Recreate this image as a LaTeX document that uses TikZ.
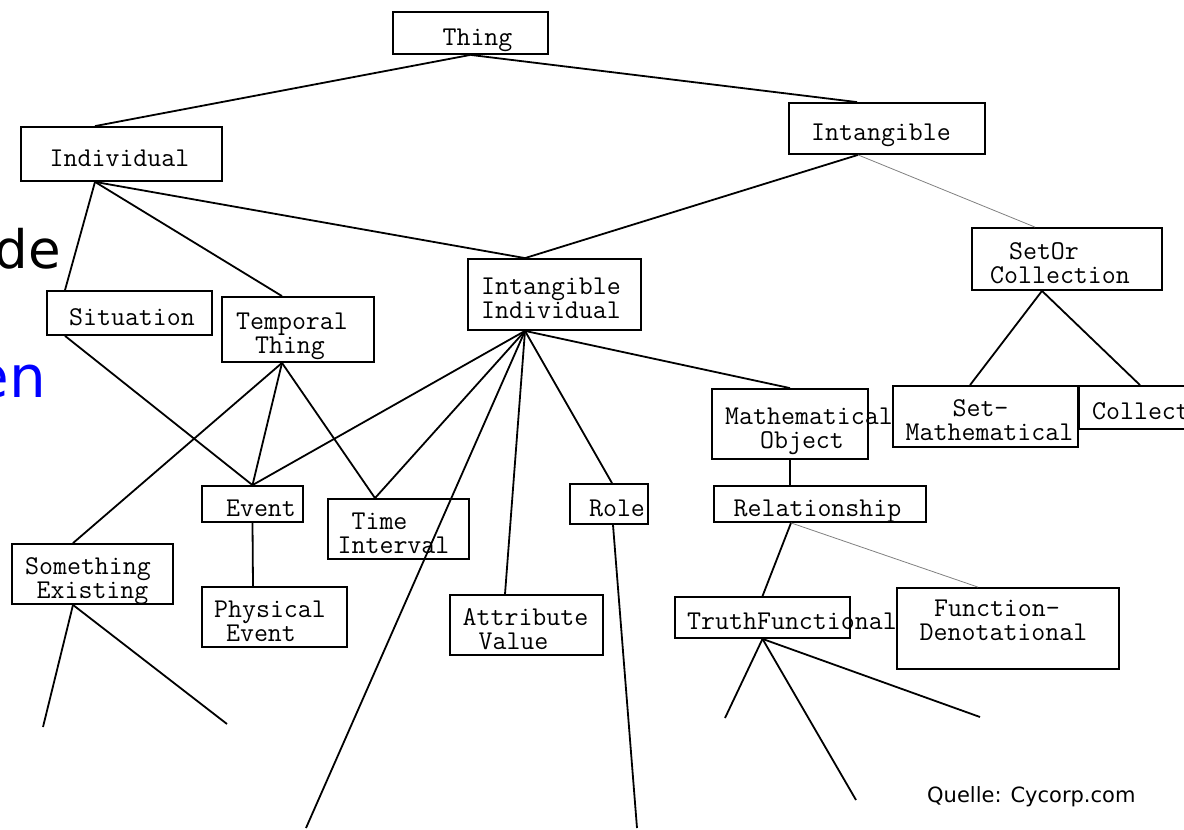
\documentclass[tikz,border=0pt]{standalone}
\usepackage{fontspec}
\newfontfamily\slidefont{DejaVu Sans}
% one line of a class box: shifted by #1/2, fixed line height
\newcommand\ctext[2]{\makebox[0pt]{\hspace*{#1pt}\rule{0pt}{24pt}\smash{#2}}}
\tikzset{
  cls/.style={draw, line width=1.8pt, inner sep=0pt, align=center,
    font=\ttfamily\fontsize{27.14}{24}\selectfont},
  link/.style={line width=1.8pt},
  weak/.style={line width=0.8pt, gray},
}
\begin{document}
\begin{tikzpicture}[x=1pt,y=-1pt]
  \useasboundingbox (0,0) rectangle (1184,830);
  \clip (0,0) rectangle (1184,830);
  % slide text behind the picture
  \node[anchor=base east, inner sep=0pt, font=\slidefont\fontsize{53}{60}\selectfont] (w1) at (61,268) {de};
  \node[anchor=base east, inner sep=0pt, text=blue, font=\slidefont\fontsize{58}{64}\selectfont] (w2) at (46,397) {en};
  \node[anchor=base west, inner sep=0pt, font=\slidefont\fontsize{21}{24}\selectfont] (src) at (927,802) {Quelle: Cycorp.com};
  % classes
  \node[cls, minimum width=155pt, minimum height=42pt] (thing) at (470.5,33) {\ctext{14}{Thing}};
  \node[cls, minimum width=201pt, minimum height=54pt] (ind) at (121.5,154) {\ctext{-4}{Individual}};
  \node[cls, minimum width=196pt, minimum height=51pt] (intang) at (887,128.5) {\ctext{-12}{Intangible}};
  \node[cls, minimum width=190pt, minimum height=62pt] (setor) at (1067,259) {\ctext{-46}{SetOr}\\\ctext{-14}{Collection}};
  \node[cls, minimum width=173pt, minimum height=71pt] (ii) at (554.5,294.5) {\ctext{-7}{Intangible}\\\ctext{-7}{Individual}};
  \node[cls, minimum width=165pt, minimum height=44pt] (sit) at (129.5,313) {\ctext{5}{Situation}};
  \node[cls, minimum width=152pt, minimum height=65pt] (tt) at (298,329.5) {\ctext{-12}{Temporal}\\\ctext{-16}{Thing}};
  \node[cls, minimum width=156pt, minimum height=70pt] (mo) at (790,424) {\ctext{38}{Mathematical}\\\ctext{24}{Object}};
  \node[cls, minimum width=185pt, minimum height=61pt] (setm) at (985.5,416.5) {\ctext{-10}{Set-}\\\ctext{8}{Mathematical}};
  \node[cls, minimum width=181pt, minimum height=43pt] (coll) at (1169.5,407.5) {\ctext{-57}{Collect}};
  \node[cls, minimum width=101pt, minimum height=36pt] (event) at (252.5,504) {\ctext{17}{Event}};
  \node[cls, minimum width=141pt, minimum height=60pt] (ti) at (398.5,529) {\ctext{-38}{Time}\\\ctext{-10}{Interval}};
  \node[cls, minimum width=78pt, minimum height=40pt] (role) at (609,504) {\ctext{16}{Role}};
  \node[cls, minimum width=212pt, minimum height=36pt] (rel) at (820,504) {\ctext{-5}{Relationship}};
  \node[cls, minimum width=161pt, minimum height=60pt] (se) at (92.5,574) {\ctext{-9}{Something}\\\ctext{0}{Existing}};
  \node[cls, minimum width=145pt, minimum height=60pt] (pe) at (274.5,617) {\ctext{-9}{Physical}\\\ctext{-27}{Event}};
  \node[cls, minimum width=153pt, minimum height=60pt] (av) at (526.5,625) {\ctext{-2}{Attribute}\\\ctext{-26}{Value}};
  \node[cls, minimum width=175pt, minimum height=41pt] (tf) at (762.5,617.5) {\ctext{59}{TruthFunctional}};
  \node[cls, minimum width=222pt, minimum height=81pt] (fd) at (1008,628.5) {\ctext{-22}{Function-}\\\ctext{-9}{Denotational}\\\ctext{0}{}};
  % open ends
  \coordinate (se1) at (43,727);
  \coordinate (se2) at (227,724);
  \coordinate (ii1) at (306,828);
  \coordinate (role1) at (637,828);
  \coordinate (tf1) at (725,718);
  \coordinate (tf2) at (856,800);
  \coordinate (tf3) at (980,717);
  % links
  \draw[link] (thing.south) -- ([xshift=-26.5pt]ind.north);
  \draw[link] (thing.south) -- ([xshift=-30pt]intang.north);
  \draw[link] ([xshift=-26.5pt]ind.south) -- ([xshift=-64.5pt]sit.north);
  \draw[link] ([xshift=-26.5pt]ind.south) -- ([xshift=-16pt]tt.north);
  \draw[link] ([xshift=-26.5pt]ind.south) -- ([xshift=-29.5pt]ii.north);
  \draw[link] ([xshift=-29pt]intang.south) -- ([xshift=-29.5pt]ii.north);
  \draw[weak] ([xshift=-29pt]intang.south) -- ([xshift=-32pt]setor.north);
  \draw[link] ([xshift=-25pt]setor.south) -- ([xshift=-15.5pt]setm.north);
  \draw[link] ([xshift=-25pt]setor.south) -- ([xshift=-29.5pt]coll.north);
  \draw[link] ([xshift=-64.5pt]sit.south) -- (event.north);
  \draw[link] ([xshift=-16pt]tt.south) -- ([xshift=-19.5pt]se.north);
  \draw[link] ([xshift=-16pt]tt.south) -- (event.north);
  \draw[link] ([xshift=-16pt]tt.south) -- ([xshift=-23.5pt]ti.north);
  \draw[link] ([xshift=-29.5pt]ii.south) -- (event.north);
  \draw[link] ([xshift=-29.5pt]ii.south) -- ([xshift=-23.5pt]ti.north);
  \draw[link] ([xshift=-29.5pt]ii.south) -- (ii1);
  \draw[link] ([xshift=-29.5pt]ii.south) -- ([xshift=-21.5pt]av.north);
  \draw[link] ([xshift=-29.5pt]ii.south) -- ([xshift=3pt]role.north);
  \draw[link] ([xshift=-29.5pt]ii.south) -- (mo.north);
  \draw[link] (mo.south) -- ([xshift=-30pt]rel.north);
  \draw[link] (event.south) -- ([xshift=-21.5pt]pe.north);
  \draw[link] ([xshift=-19.5pt]se.south) -- (se1);
  \draw[link] ([xshift=-19.5pt]se.south) -- (se2);
  \draw[link] ([xshift=4pt]role.south) -- (role1);
  \draw[link] ([xshift=-29pt]rel.south) -- (tf.north);
  \draw[weak] ([xshift=-29pt]rel.south) -- ([xshift=-30pt]fd.north);
  \draw[link] (tf.south) -- (tf1);
  \draw[link] (tf.south) -- (tf2);
  \draw[link] (tf.south) -- (tf3);
\end{tikzpicture}
\end{document}
